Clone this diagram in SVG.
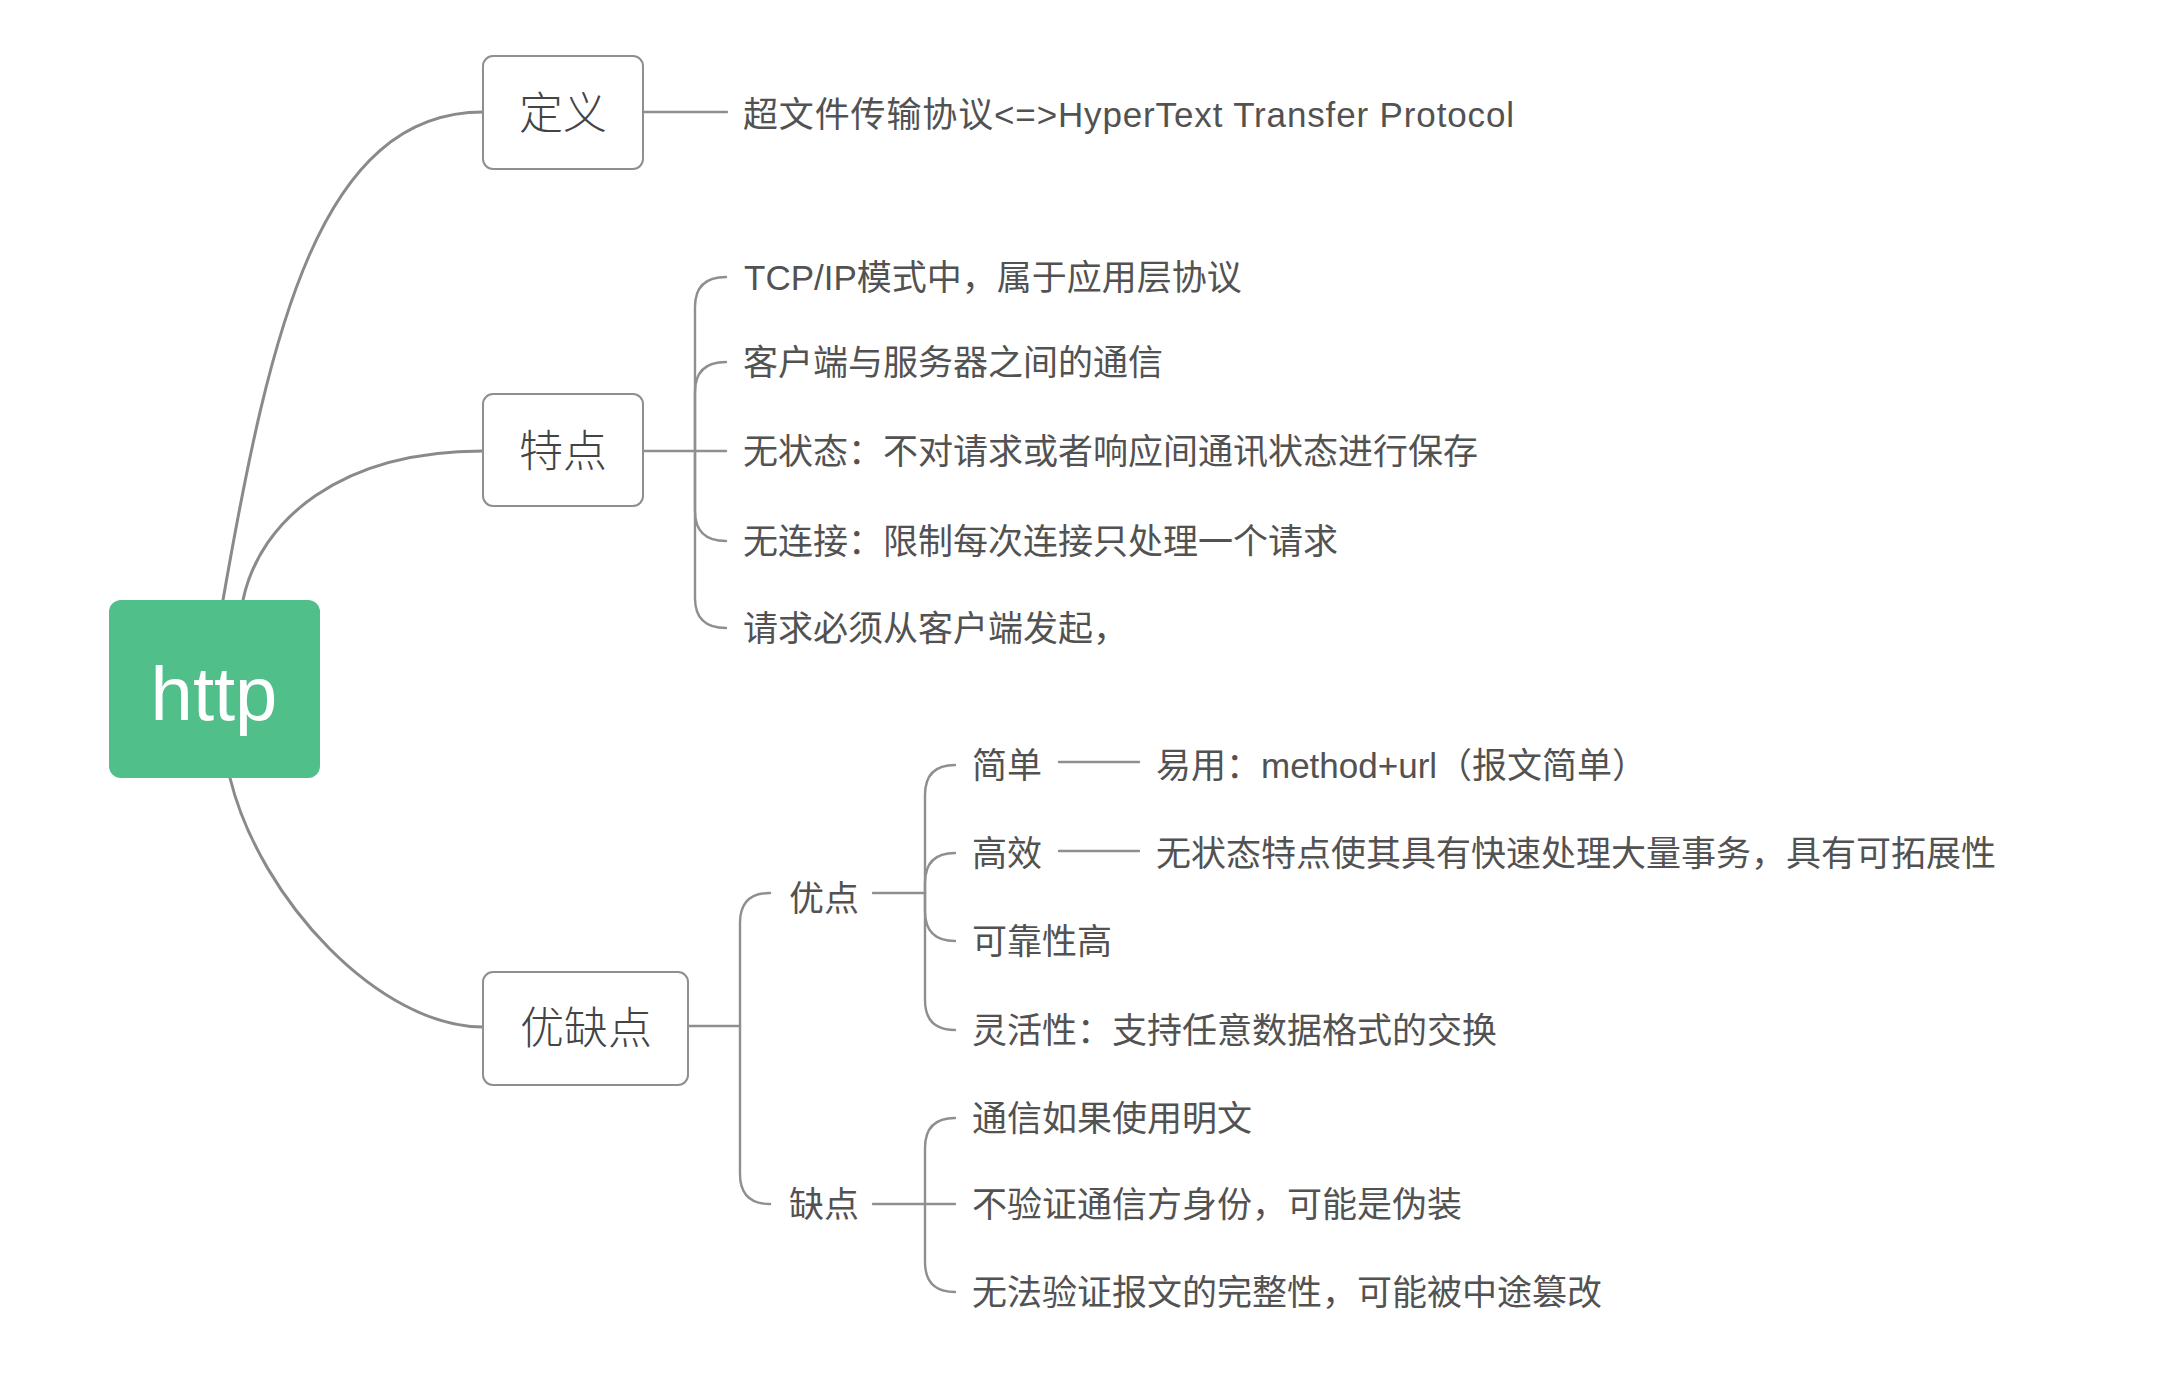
<svg xmlns="http://www.w3.org/2000/svg" width="2158" height="1379" viewBox="0 0 2158 1379">
<style>
.bg{fill:#ffffff}
.main{fill:none;stroke:#8a8a8a;stroke-width:3;stroke-linecap:round}
.br{fill:none;stroke:#8f8f8f;stroke-width:2.4;stroke-linecap:round}
.box{fill:#ffffff;stroke:#8f8f8f;stroke-width:2}
.root{fill:#51bf89}
.rt{font-family:"Liberation Sans","Noto Sans",sans-serif;font-size:76px;fill:#ffffff;text-anchor:middle}
.bt{font-family:"Noto Sans CJK SC","Noto Sans CJK JP",sans-serif;font-size:44px;font-weight:300;fill:#444444;text-anchor:middle}
.t{font-family:"Liberation Sans","Noto Sans CJK SC","Noto Sans CJK JP",sans-serif;font-size:35px;fill:#525252}
</style>
<rect class="bg" x="0" y="0" width="2158" height="1379"/>
<g id="connectors">
<path class="main" d="M223,600 C270,330 320,112 483,112"/>
<path class="main" d="M243,600 C260,520 340,451 483,451"/>
<path class="main" d="M230,778 C260,900 380,1027 483,1027"/>
<path class="br" d="M643,112 H727"/>
<path class="br" d="M643,451 H726"/>
<path class="br" d="M695,451 V307 Q695,277 726,277"/>
<path class="br" d="M695,451 V392 Q695,362 726,362"/>
<path class="br" d="M695,451 V511 Q695,541 726,541"/>
<path class="br" d="M695,451 V598 Q695,628 726,628"/>
<path class="br" d="M688,1026 H740"/>
<path class="br" d="M740,1026 V923 Q740,893 770,893"/>
<path class="br" d="M740,1026 V1174 Q740,1204 770,1204"/>
<path class="br" d="M873,893 H925"/>
<path class="br" d="M925,893 V795 Q925,765 955,765"/>
<path class="br" d="M925,893 V883 Q925,853 955,853"/>
<path class="br" d="M925,893 V911 Q925,941 955,941"/>
<path class="br" d="M925,893 V1000 Q925,1030 955,1030"/>
<path class="br" d="M873,1204 H955"/>
<path class="br" d="M925,1204 V1148 Q925,1118 955,1118"/>
<path class="br" d="M925,1204 V1262 Q925,1292 955,1292"/>
<path class="br" d="M1059,762 H1139"/>
<path class="br" d="M1059,851 H1139"/>
</g>
<g id="root">
<rect class="root" x="109" y="600" width="211" height="178" rx="12"/>
<text class="rt" x="214" y="720">http</text>
</g>
<g id="n-dingyi">
<rect class="box" x="483" y="56" width="160" height="113" rx="10"/>
<text class="bt" x="563" y="129">定义</text>
</g>
<g id="n-def-text">
<text class="t" x="743" y="127" textLength="771">超文件传输协议&lt;=&gt;HyperText Transfer Protocol</text>
</g>
<g id="n-tedian">
<rect class="box" x="483" y="394" width="160" height="112" rx="10"/>
<text class="bt" x="563" y="467">特点</text>
</g>
<g id="n-td1"><text class="t" x="744" y="290">TCP/IP模式中，属于应用层协议</text></g>
<g id="n-td2"><text class="t" x="743" y="375">客户端与服务器之间的通信</text></g>
<g id="n-td3"><text class="t" x="743" y="464">无状态：不对请求或者响应间通讯状态进行保存</text></g>
<g id="n-td4"><text class="t" x="743" y="554">无连接：限制每次连接只处理一个请求</text></g>
<g id="n-td5"><text class="t" x="743" y="641">请求必须从客户端发起，</text></g>
<g id="n-youque">
<rect class="box" x="483" y="972" width="205" height="113" rx="10"/>
<text class="bt" x="586" y="1044">优缺点</text>
</g>
<g id="n-you"><text class="t" x="789" y="911">优点</text></g>
<g id="n-que"><text class="t" x="789" y="1217">缺点</text></g>
<g id="n-y1"><text class="t" x="972" y="778">简单</text></g>
<g id="n-y1a"><text class="t" x="1156" y="778">易用：method+url（报文简单）</text></g>
<g id="n-y2"><text class="t" x="972" y="866">高效</text></g>
<g id="n-y2a"><text class="t" x="1156" y="866">无状态特点使其具有快速处理大量事务，具有可拓展性</text></g>
<g id="n-y3"><text class="t" x="972" y="954">可靠性高</text></g>
<g id="n-y4"><text class="t" x="972" y="1043">灵活性：支持任意数据格式的交换</text></g>
<g id="n-q1"><text class="t" x="972" y="1131">通信如果使用明文</text></g>
<g id="n-q2"><text class="t" x="972" y="1217">不验证通信方身份，可能是伪装</text></g>
<g id="n-q3"><text class="t" x="972" y="1305">无法验证报文的完整性，可能被中途篡改</text></g>
</svg>
